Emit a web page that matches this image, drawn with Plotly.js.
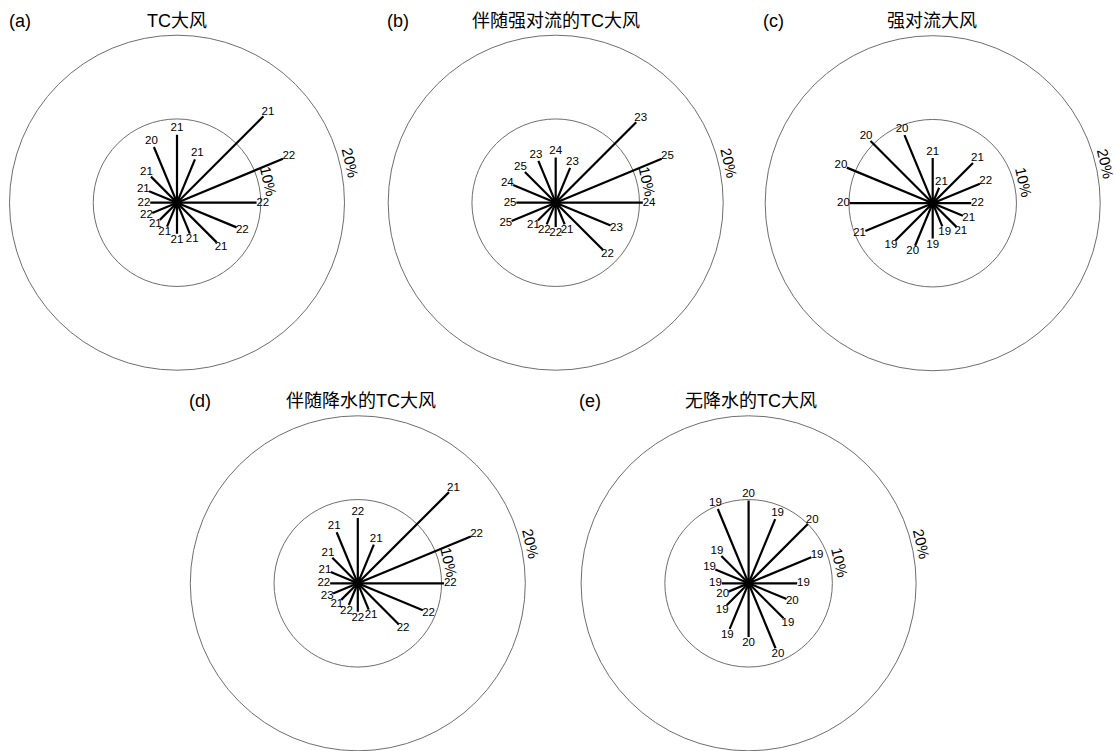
<!DOCTYPE html>
<html>
<head>
<meta charset="utf-8">
<script src="https://cdn.plot.ly/plotly-3.0.1.min.js"></script>
<style>html,body{margin:0;padding:0;background:#fff;}#chart{width:1116px;height:751px;}</style>
</head>
<body>
<div id="chart"></div>
<script>
// 16 wind directions (compass degrees)
const directions = ["N","NNE","NE","ENE","E","ESE","SE","SSE","S","SSW","SW","WSW","W","WNW","NW","NNW"];
const dirDegrees = [0,22.5,45,67.5,90,112.5,135,157.5,180,202.5,225,247.5,270,292.5,315,337.5];

// Frequencies (%) per direction
const freqA = [8.1,5.6,14.6,13.7,9.5,7.7,6.7,4.0,3.7,3.1,2.9,3.2,3.2,3.6,4.4,7.2];
const freqB = [5.4,4.5,13.6,13.7,10.4,7.1,8.0,2.8,2.9,2.8,3.0,5.7,4.7,5.5,5.2,5.4];
const freqC = [5.4,2.0,6.8,6.1,4.6,3.9,4.0,3.0,4.2,5.5,6.3,8.7,9.9,11.1,10.5,8.8];
const freqD = [7.8,5.0,15.4,14.6,10.3,8.4,6.9,3.4,3.4,2.8,2.8,3.2,3.3,3.5,4.3,6.6];
const freqE = [9.9,8.3,10.0,8.1,5.8,4.9,5.9,8.4,6.4,5.9,3.7,2.6,3.2,4.3,4.6,9.6];

// Labels at the end of each line
const labelA = [21,21,21,22,22,22,21,21,21,21,21,22,22,21,21,20];
const labelB = [24,23,23,25,24,23,22,21,22,22,21,25,25,24,25,23];
const labelC = [21,21,21,22,22,21,21,19,19,20,19,21,20,20,20,20];
const labelD = [22,21,21,22,22,22,22,21,22,22,21,23,22,21,21,21];
const labelE = [20,19,20,19,19,20,19,20,20,19,19,20,19,19,19,19];

const panelTags = ["(a)","(b)","(c)","(d)","(e)"];
const panelTitles = ["TC大风","伴随强对流的TC大风","强对流大风","伴随降水的TC大风","无降水的TC大风"];
const ringTicks = [10,20];
const ringLabels = ["10%","20%"];

const freqs = [freqA,freqB,freqC,freqD,freqE];
const labels = [labelA,labelB,labelC,labelD,labelE];

// layout geometry (pixels)
const W = 1116, H = 751, R = 167.5;
const centers = [[177,202.7],[555.7,202.7],[932.7,203.2],[357.8,583.3],[748.6,583.3]];
const tagX = [20,398,773,200,590];
const titleX = [177,556,932,361,751];
const titleY = [21,21,21,401,401];
const rMax = 20;
const labelAngle = 13; // degrees above east for ring labels

const FONT = "Liberation Sans, Arial, Noto Sans CJK SC, sans-serif";
const traces = [];
const layout = {
  width: W, height: H,
  margin: {l:0,r:0,t:0,b:0},
  paper_bgcolor: "#fff",
  showlegend: false,
  font: {family: FONT, color: "#000"},
  annotations: []
};

for (let p = 0; p < 5; p++) {
  const sub = p === 0 ? "polar" : "polar" + (p + 1);
  const [cx, cy] = centers[p];
  layout[sub] = {
    domain: {
      x: [(cx - R) / W, (cx + R) / W],
      y: [Math.max(0, (H - cy - R) / H), Math.min(1, (H - cy + R) / H)]
    },
    bgcolor: "rgba(0,0,0,0)",
    radialaxis: {
      range: [0, rMax], tickvals: [ringTicks[0]], showticklabels: false,
      ticks: "", showline: false, gridcolor: "#6e6e6e", gridwidth: 1
    },
    angularaxis: {
      rotation: 90, direction: "clockwise", showgrid: false,
      showticklabels: false, ticks: "", showline: true,
      linecolor: "#6e6e6e", linewidth: 1
    }
  };
  // spokes
  const rs = [], ths = [];
  freqs[p].forEach((v, i) => { rs.push(0, v, null); ths.push(dirDegrees[i], dirDegrees[i], null); });
  traces.push({
    type: "scatterpolar", subplot: sub, mode: "lines",
    r: rs, theta: ths, connectgaps: false,
    line: {color: "#000", width: 2.2}, hoverinfo: "skip"
  });
  // end labels
  traces.push({
    type: "scatterpolar", subplot: sub, mode: "text",
    r: freqs[p].map(v => v + 0.75), theta: dirDegrees,
    text: labels[p].map(String), textposition: "middle center",
    textfont: {size: 11.5, color: "#000", family: FONT}, hoverinfo: "skip"
  });
  // center dot
  traces.push({
    type: "scatterpolar", subplot: sub, mode: "markers",
    r: [0], theta: [0], marker: {color: "#000", size: 10}, hoverinfo: "skip"
  });
  // panel tag & title
  layout.annotations.push({
    xref: "paper", yref: "paper", x: tagX[p] / W, y: 1 - titleY[p] / H,
    text: panelTags[p], showarrow: false, xanchor: "center", yanchor: "middle",
    font: {size: 18, family: FONT}
  });
  layout.annotations.push({
    xref: "paper", yref: "paper", x: titleX[p] / W, y: 1 - titleY[p] / H,
    text: panelTitles[p], showarrow: false, xanchor: "center", yanchor: "middle",
    font: {size: 18, family: "Liberation Sans, Noto Sans CJK SC, sans-serif"}
  });
  // ring labels
  ringTicks.forEach((t, k) => {
    const rp = (t + 1.2) / rMax * R;
    const a = labelAngle * Math.PI / 180;
    layout.annotations.push({
      xref: "paper", yref: "paper",
      x: (cx + rp * Math.cos(a)) / W, y: 1 - (cy - rp * Math.sin(a)) / H,
      text: ringLabels[k], showarrow: false, xanchor: "center", yanchor: "middle",
      textangle: 90 - labelAngle, font: {size: 15, family: FONT}
    });
  });
}

Plotly.newPlot("chart", traces, layout, {staticPlot: true, displayModeBar: false});
</script>
</body>
</html>
